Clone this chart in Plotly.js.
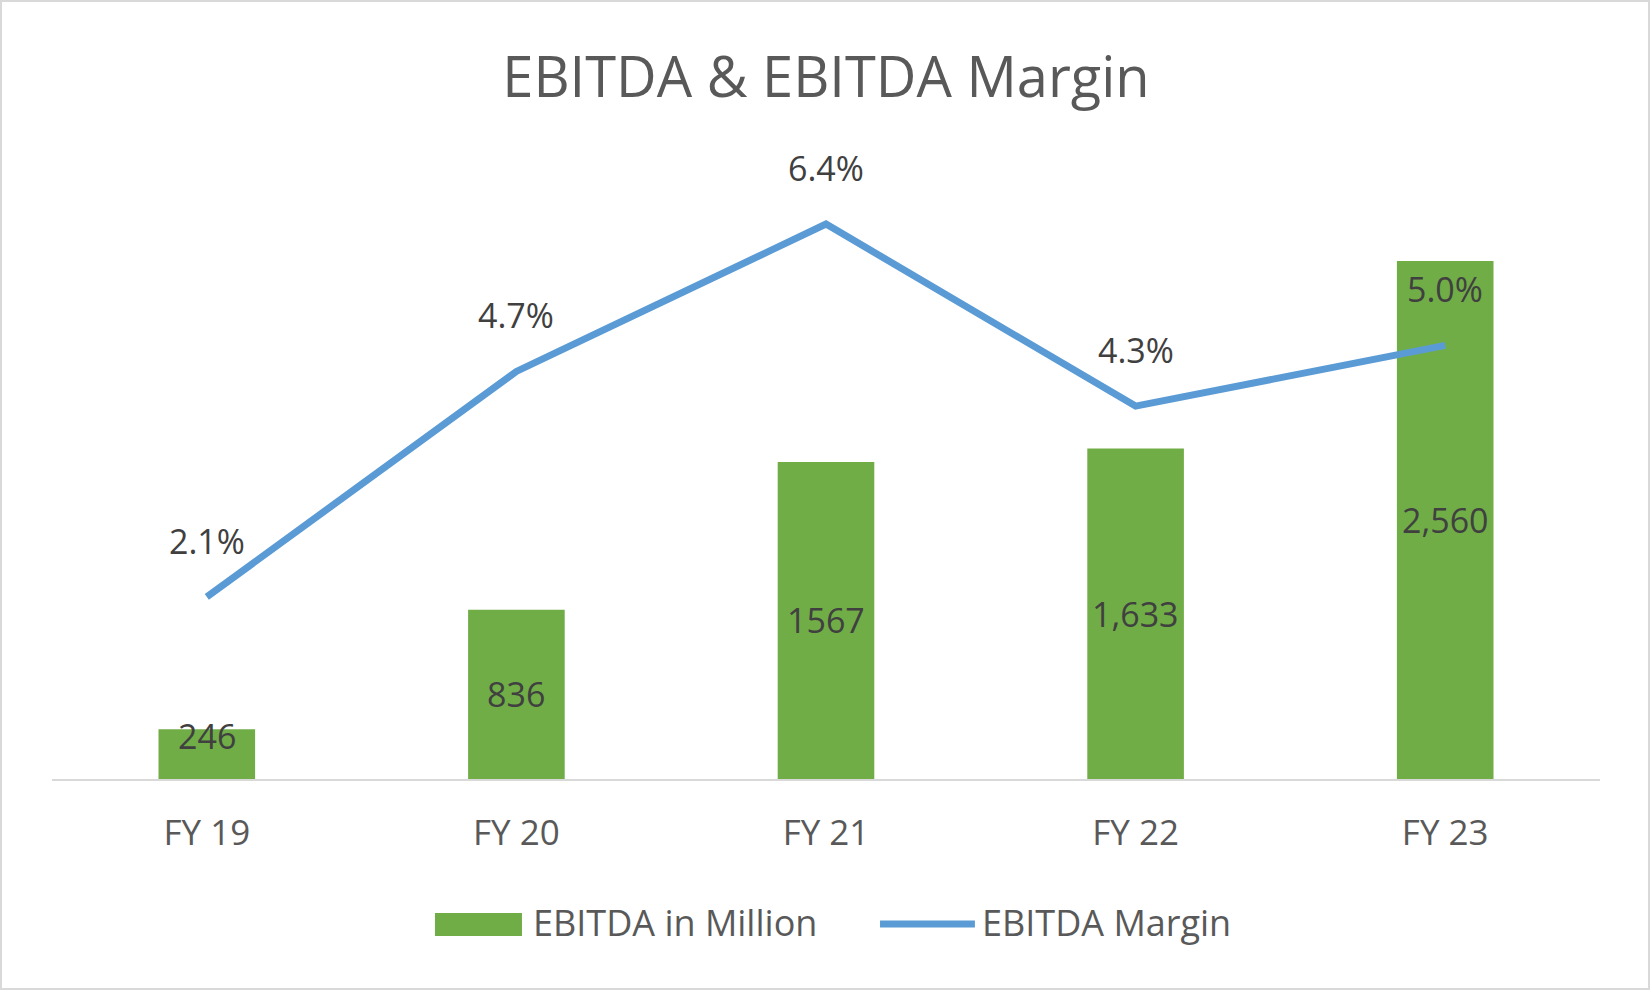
<!DOCTYPE html>
<html>
<head>
<meta charset="utf-8">
<script src="https://cdn.plot.ly/plotly-3.0.1.min.js"></script>
<style>
  html, body { margin: 0; padding: 0; background: #ffffff; }
  #wrap { position: relative; width: 1652px; height: 992px; }
  #chart { width: 1652px; height: 992px; }
  #frame { position: absolute; left: 0; top: 0; width: 1646px; height: 986px;
           border: 2px solid #d9d9d9; pointer-events: none; }
</style>
</head>
<body>
<div id="wrap">
  <div id="chart"></div>
  <div id="frame"></div>
</div>
<script>
// ---- data ----
const categories = ['FY 19', 'FY 20', 'FY 21', 'FY 22', 'FY 23'];
const ebitda = [246, 836, 1567, 1633, 2560];
const ebitdaLabels = ['246', '836', '1567', '1,633', '2,560'];
const margin = [0.021, 0.047, 0.064, 0.043, 0.050];
const marginLabels = ['2.1%', '4.7%', '6.4%', '4.3%', '5.0%'];
const seriesNames = ['EBITDA in Million', 'EBITDA Margin'];
const chartTitle = 'EBITDA & EBITDA Margin';

// ---- styles ----
const FONT = '"Open Sans", "Noto Sans", sans-serif';
const GREEN = '#70ad47';
const BLUE = '#5b9bd5';
const LABEL = '#404040';
const TEXT = '#595959';
const MIN_LABEL_Y = 215; // keeps a bar label from sinking below the axis

const barTrace = {
  type: 'bar',
  name: seriesNames[0],
  x: categories,
  y: ebitda,
  marker: { color: GREEN, line: { width: 0 } },
  hoverinfo: 'x+y',
  yaxis: 'y'
};

const lineTrace = {
  type: 'scatter',
  mode: 'lines',
  name: seriesNames[1],
  x: categories,
  y: margin,
  line: { color: BLUE, width: 7 },
  yaxis: 'y2',
  hoverinfo: 'x+y'
};

// bar value labels, centred in each bar
const barLabels = categories.map((c, i) => ({
  x: c, y: Math.max(ebitda[i] / 2, MIN_LABEL_Y), xref: 'x', yref: 'y',
  text: ebitdaLabels[i], showarrow: false,
  xanchor: 'center', yanchor: 'middle',
  font: { family: FONT, size: 34, color: LABEL }
}));

// margin labels above each point
const lineLabels = categories.map((c, i) => ({
  x: c, y: margin[i], xref: 'x', yref: 'y2',
  text: marginLabels[i], showarrow: false,
  yshift: 56, xanchor: 'center', yanchor: 'middle',
  font: { family: FONT, size: 34, color: LABEL }
}));

// custom legend (paper coordinates)
const legendShapes = [
  { type: 'rect', xref: 'paper', yref: 'paper',
    x0: 0.2474, x1: 0.3036, y0: -0.2587, y1: -0.2208,
    fillcolor: GREEN, line: { width: 0 } },
  { type: 'line', xref: 'paper', yref: 'paper',
    x0: 0.5349, x1: 0.5962, y0: -0.2389, y1: -0.2389,
    line: { color: BLUE, width: 7 } }
];
const legendTexts = [
  { xref: 'paper', yref: 'paper', x: 0.3094, y: -0.2370, xanchor: 'left', yanchor: 'middle',
    text: seriesNames[0], showarrow: false, font: { family: FONT, size: 36, color: TEXT } },
  { xref: 'paper', yref: 'paper', x: 0.5995, y: -0.2370, xanchor: 'left', yanchor: 'middle',
    text: seriesNames[1], showarrow: false, font: { family: FONT, size: 36, color: TEXT } }
];

const layout = {
  width: 1652,
  height: 992,
  margin: { l: 52, r: 52, t: 172, b: 213, pad: 0 },
  paper_bgcolor: '#ffffff',
  plot_bgcolor: '#ffffff',
  showlegend: false,
  bargap: 0.688,
  title: {
    text: chartTitle,
    font: { family: FONT, size: 56, color: TEXT },
    x: 0.5, xref: 'paper', xanchor: 'center',
    y: 1 - 77 / 992, yref: 'container', yanchor: 'middle'
  },
  xaxis: {
    type: 'category',
    showline: true, linecolor: '#d9d9d9', linewidth: 2,
    showgrid: false, zeroline: false, ticks: '',
    ticklabelstandoff: 22,
    tickfont: { family: FONT, size: 35, color: TEXT },
    fixedrange: true
  },
  yaxis: {
    range: [0, 3000], visible: false, showgrid: false, zeroline: false, fixedrange: true
  },
  yaxis2: {
    range: [0, 0.07], overlaying: 'y', side: 'right', visible: false,
    showgrid: false, zeroline: false, fixedrange: true
  },
  shapes: legendShapes,
  annotations: barLabels.concat(lineLabels, legendTexts)
};

Plotly.newPlot('chart', [barTrace, lineTrace], layout, { displayModeBar: false, staticPlot: true });
</script>
</body>
</html>
